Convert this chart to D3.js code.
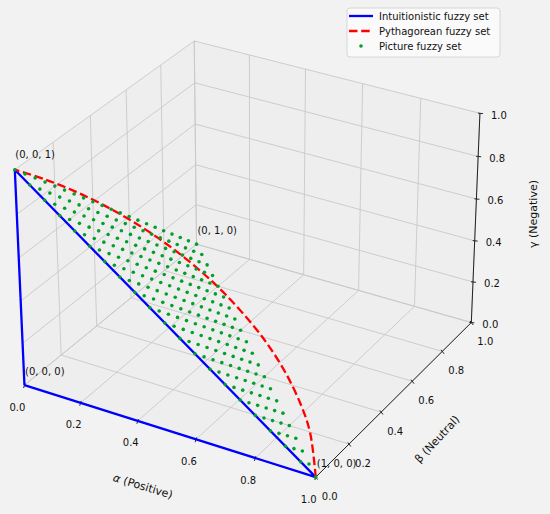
<!DOCTYPE html>
<html>
<head>
<meta charset="utf-8">
<script src="https://cdn.jsdelivr.net/npm/d3@7"></script>
<style>
  html, body { margin: 0; padding: 0; background: #f2f2f2; }
  svg { display: block; font-family: "DejaVu Sans", sans-serif; }
</style>
</head>
<body>
<div id="chart"></div>
<script>
// tick values, shared by the three axes
const ticks = [0, 0.2, 0.4, 0.6, 0.8, 1.0];

// grid levels of the picture fuzzy set (alpha + beta + gamma = 1)
const levels = [0, 0.05, 0.1, 0.15, 0.2, 0.25, 0.3, 0.35, 0.4, 0.45, 0.5,
  0.55, 0.6, 0.65, 0.7, 0.75, 0.8, 0.85, 0.9, 0.95, 1];

// intuitionistic fuzzy set boundary (alpha, beta, gamma)
const ifsPoints = [[0, 0, 0], [1, 0, 0], [0, 0, 1], [0, 0, 0]];

// pythagorean fuzzy set boundary, beta = 0
const pfsAlpha = [1, 0.98, 0.95, 0.9, 0.85, 0.8, 0.7, 0.6, 0.5, 0.4, 0.3, 0.2, 0.1, 0];
const pfsGamma = [0, 0.199, 0.312, 0.436, 0.527, 0.6, 0.714, 0.8, 0.866, 0.917, 0.954, 0.98, 0.995, 1];

// labelled vertices
const vertices = [[0, 0, 1], [0, 1, 0], [0, 0, 0], [1, 0, 0]];

const legendItems = ["Intuitionistic fuzzy set", "Pythagorean fuzzy set", "Picture fuzzy set"];

const width = 550;
const height = 514;

// screen position of the box corners, used to fit the camera
const frame = [
  [[0, 0, 0], [24, 385]],
  [[1, 0, 0], [316, 477]],
  [[1, 1, 0], [471, 323]],
  [[0, 1, 0], [197, 244]],
  [[0, 0, 1], [15, 170]],
  [[0, 1, 1], [194, 41]],
  [[1, 1, 1], [480, 113]]
];

// least squares fit of a 3x4 perspective matrix (last entry = 1)
function fitCamera(pairs) {
  const s = 500;
  const n = 11;
  const M = d3.range(n).map(() => new Array(n + 1).fill(0));
  pairs.forEach(([[X, Y, Z], [u0, v0]]) => {
    const u = u0 / s, v = v0 / s;
    const rows = [
      [[X, Y, Z, 1, 0, 0, 0, 0, -u * X, -u * Y, -u * Z], u],
      [[0, 0, 0, 0, X, Y, Z, 1, -v * X, -v * Y, -v * Z], v]
    ];
    rows.forEach(([a, b]) => {
      for (let i = 0; i < n; i++) {
        for (let j = 0; j < n; j++) M[i][j] += a[i] * a[j];
        M[i][n] += a[i] * b;
      }
    });
  });
  for (let c = 0; c < n; c++) {
    let p = c;
    for (let r = c + 1; r < n; r++) if (Math.abs(M[r][c]) > Math.abs(M[p][c])) p = r;
    [M[c], M[p]] = [M[p], M[c]];
    for (let r = 0; r < n; r++) {
      if (r === c) continue;
      const f = M[r][c] / M[c][c];
      for (let j = c; j <= n; j++) M[r][j] -= f * M[c][j];
    }
  }
  const h = M.map((row, i) => row[n] / row[i]);
  return ([X, Y, Z]) => {
    const w = h[8] * X + h[9] * Y + h[10] * Z + 1;
    return [
      s * (h[0] * X + h[1] * Y + h[2] * Z + h[3]) / w,
      s * (h[4] * X + h[5] * Y + h[6] * Z + h[7]) / w
    ];
  };
}

const x = d3.scaleLinear().domain([0, 1]).range([0, 1]);
const y = d3.scaleLinear().domain([0, 1]).range([0, 1]);
const z = d3.scaleLinear().domain([0, 1]).range([0, 1]);
const camera = fitCamera(frame);
const project = ([a, b, g]) => camera([x(a), y(b), z(g)]);

const line = d3.line().x(d => project(d)[0]).y(d => project(d)[1]);

const svg = d3.select("#chart")
  .append("svg")
  .attr("width", width)
  .attr("height", height);

svg.append("rect")
  .attr("width", width)
  .attr("height", height)
  .attr("fill", "#f2f2f2");

// panes
const panes = [
  [[0, 0, 0], [0, 1, 0], [0, 1, 1], [0, 0, 1]],
  [[0, 1, 0], [1, 1, 0], [1, 1, 1], [0, 1, 1]],
  [[0, 0, 0], [1, 0, 0], [1, 1, 0], [0, 1, 0]]
];
svg.append("g")
  .selectAll("path")
  .data(panes)
  .enter()
  .append("path")
  .attr("d", d => line(d) + "Z")
  .style("fill", "#eeeeee")
  .style("stroke", "none");

// grid lines on the three back panes
const gridLines = [];
ticks.forEach(t => {
  gridLines.push([[0, t, 0], [0, t, 1]], [[0, 0, t], [0, 1, t]]);
  gridLines.push([[t, 1, 0], [t, 1, 1]], [[0, 1, t], [1, 1, t]]);
  gridLines.push([[t, 0, 0], [t, 1, 0]], [[0, t, 0], [1, t, 0]]);
});
svg.append("g")
  .selectAll("path")
  .data(gridLines)
  .enter()
  .append("path")
  .attr("d", line)
  .style("fill", "none")
  .style("stroke", "#c8c8c8")
  .style("stroke-width", 0.9);

// axes: edge, tick direction (px), label offset (px)
const axes = [
  { edge: t => [t, 0, 0], dir: [-0.3, 1], off: [-7, 22] },
  { edge: t => [1, t, 0], dir: [0.6, 0.8], off: [14, 19] },
  { edge: t => [1, 1, t], dir: [1, 0.1], off: [19, 2] }
];
const fmt = d3.format(".1f");
axes.forEach(ax => {
  const g = svg.append("g");
  g.append("path")
    .attr("d", line([ax.edge(0), ax.edge(1)]))
    .style("stroke", "#222")
    .style("stroke-width", 1);
  const len = Math.hypot(ax.dir[0], ax.dir[1]);
  const ux = ax.dir[0] / len, uy = ax.dir[1] / len;
  g.selectAll("line")
    .data(ticks)
    .enter()
    .append("line")
    .attr("x1", t => project(ax.edge(t))[0] - 2 * ux)
    .attr("y1", t => project(ax.edge(t))[1] - 2 * uy)
    .attr("x2", t => project(ax.edge(t))[0] + 3 * ux)
    .attr("y2", t => project(ax.edge(t))[1] + 3 * uy)
    .style("stroke", "#222")
    .style("stroke-width", 1);
  g.selectAll("text")
    .data(ticks)
    .enter()
    .append("text")
    .attr("x", t => project(ax.edge(t))[0] + ax.off[0])
    .attr("y", t => project(ax.edge(t))[1] + ax.off[1])
    .attr("text-anchor", "middle")
    .attr("dominant-baseline", "central")
    .style("font-size", "10px")
    .style("fill", "#111")
    .text(fmt);
});

// intuitionistic fuzzy set
svg.append("path")
  .attr("d", line(ifsPoints))
  .style("fill", "none")
  .style("stroke", "#0000ff")
  .style("stroke-width", 2.3)
  .style("stroke-linejoin", "round");

// pythagorean fuzzy set
const pfsPoints = pfsAlpha.map((a, i) => [a, 0, pfsGamma[i]]);
svg.append("path")
  .attr("d", line.curve(d3.curveCatmullRom)(pfsPoints))
  .style("fill", "none")
  .style("stroke", "#ff0000")
  .style("stroke-width", 2.3)
  .style("stroke-dasharray", "8.5,3.7");
line.curve(d3.curveLinear);

// picture fuzzy set
const picturePoints = [];
levels.forEach(a => levels.forEach(b => {
  const g = +(1 - a - b).toFixed(2);
  if (g >= 0) picturePoints.push([a, b, g]);
}));
svg.append("g")
  .selectAll("circle")
  .data(picturePoints)
  .enter()
  .append("circle")
  .attr("cx", d => project(d)[0])
  .attr("cy", d => project(d)[1])
  .attr("r", 1.8)
  .style("fill", "#00a02a");

// vertex labels
svg.append("g")
  .selectAll("text")
  .data(vertices)
  .enter()
  .append("text")
  .attr("x", d => project([d[0], d[1], d[2] + 0.05])[0] + 1)
  .attr("y", d => project([d[0], d[1], d[2] + 0.05])[1])
  .style("font-size", "10px")
  .style("fill", "#111")
  .text(d => `(${d.join(", ")})`);

// axis labels
const axisLabels = [
  { x: 143, y: 486, rot: 17, greek: "α", italic: true, text: " (Positive)" },
  { x: 437, y: 439, rot: -47, greek: "β", italic: false, text: " (Neutral)" },
  { x: 533, y: 214, rot: -90, greek: "γ", italic: false, text: " (Negative)" }
];
axisLabels.forEach(l => {
  const t = svg.append("text")
    .attr("transform", `translate(${l.x},${l.y}) rotate(${l.rot})`)
    .attr("text-anchor", "middle")
    .attr("dominant-baseline", "central")
    .style("font-size", "11px")
    .style("fill", "#111");
  t.append("tspan").style("font-style", l.italic ? "italic" : "normal").text(l.greek);
  t.append("tspan").text(l.text);
});

// legend
const legend = svg.append("g").attr("transform", "translate(347,8)");
legend.append("rect")
  .attr("width", 153)
  .attr("height", 49)
  .attr("rx", 3)
  .style("fill", "#ffffff")
  .style("fill-opacity", 0.6)
  .style("stroke", "#d6d6d6")
  .style("stroke-width", 1);
const rows = legend.selectAll("g")
  .data(legendItems)
  .enter()
  .append("g")
  .attr("transform", (d, i) => `translate(0,${8 + i * 15})`);
rows.filter((d, i) => i === 0).append("line")
  .attr("x1", 2).attr("x2", 26)
  .style("stroke", "#0000ff").style("stroke-width", 2.3);
rows.filter((d, i) => i === 1).append("line")
  .attr("x1", 2).attr("x2", 26)
  .style("stroke", "#ff0000").style("stroke-width", 2.3)
  .style("stroke-dasharray", "8.5,3.7");
rows.filter((d, i) => i === 2).append("circle")
  .attr("cx", 14).attr("r", 1.8)
  .style("fill", "#00a02a");
rows.append("text")
  .attr("x", 32)
  .attr("dominant-baseline", "central")
  .style("font-size", "10px")
  .style("fill", "#111")
  .text(d => d);
</script>
</body>
</html>
